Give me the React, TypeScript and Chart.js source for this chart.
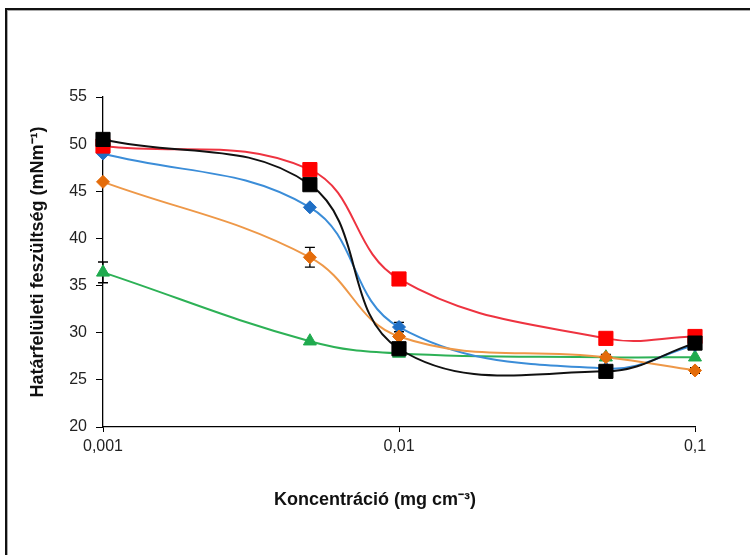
import React, { useEffect, useRef } from "react";
import { Chart, registerables } from "chart.js";

Chart.register(...registerables);

// Concentrations (mg cm⁻³) and labelled x ticks
const concentrations = [0.001, 0.005, 0.01, 0.05, 0.1];
const xTickValues = [0.001, 0.01, 0.1];
const xTickLabels = ["0,001", "0,01", "0,1"];

// Interfacial tension (mN m⁻¹) per series
const seriesBlack = [50.5, 45.7, 28.3, 25.9, 28.9];
const seriesRed = [49.8, 47.3, 35.7, 29.4, 29.6];
const seriesOrange = [46.0, 38.0, 29.6, 27.4, 26.0];
const seriesBlue = [49.0, 43.3, 30.6, 26.2, 28.7];
const seriesGreen = [36.4, 29.1, 27.8, 27.4, 27.4];

// Standard deviations (0 = no bar)
const errBlack = [0, 0, 0, 0, 0];
const errRed = [0, 0, 0, 0, 0];
const errOrange = [0, 1.05, 0, 0.3, 0.3];
const errBlue = [0, 0, 0.5, 0, 0];
const errGreen = [1.1, 0, 0, 0, 0];

const X_TITLE = "Koncentráció (mg cm⁻³)";
const Y_TITLE = "Határfelületi feszültség (mNm⁻¹)";

const FONT = "Arial, 'Liberation Sans', sans-serif";

const toPoints = (ys: number[]) => concentrations.map((x, i) => ({ x, y: ys[i] }));

const errorBarPlugin = {
  id: "errorBars",
  beforeDatasetsDraw(chart: any) {
    const { ctx, scales } = chart;
    const xs = scales.x;
    const ys = scales.y;
    ctx.save();
    ctx.strokeStyle = "#000";
    ctx.lineWidth = 1.3;
    chart.data.datasets.forEach((ds: any) => {
      const errs: number[] = ds.errors || [];
      ds.data.forEach((p: any, i: number) => {
        const e = errs[i];
        if (!e) return;
        const px = xs.getPixelForValue(p.x);
        const top = ys.getPixelForValue(p.y + e);
        const bot = ys.getPixelForValue(p.y - e);
        const cap = 5;
        ctx.beginPath();
        ctx.moveTo(px, top);
        ctx.lineTo(px, bot);
        ctx.moveTo(px - cap, top);
        ctx.lineTo(px + cap, top);
        ctx.moveTo(px - cap, bot);
        ctx.lineTo(px + cap, bot);
        ctx.stroke();
      });
    });
    ctx.restore();
  },
};

// x-axis caption, set slightly left of the plot centre
const xCaptionPlugin = {
  id: "xCaption",
  afterDraw(chart: any) {
    const { ctx, chartArea } = chart;
    const cx = (chartArea.left + chartArea.right) / 2 - 24;
    ctx.save();
    ctx.font = `bold 18px ${FONT}`;
    ctx.fillStyle = "#111";
    ctx.textAlign = "center";
    ctx.textBaseline = "middle";
    ctx.fillText(X_TITLE, cx, 500);
    ctx.restore();
  },
};

function makeSet(ys: number[], errs: number[], line: string, marker: string, style: string, radius: number) {
  return {
    data: toPoints(ys),
    errors: errs,
    borderColor: line,
    borderWidth: 2,
    backgroundColor: marker,
    pointBackgroundColor: marker,
    pointBorderColor: marker,
    pointBorderWidth: 1,
    pointStyle: style,
    pointRadius: radius,
    tension: 0.4,
    clip: false,
  };
}

export default function App() {
  const canvasRef = useRef<HTMLCanvasElement | null>(null);

  useEffect(() => {
    if (!canvasRef.current) return;
    const chart = new Chart(canvasRef.current, {
      type: "line",
      data: {
        datasets: [
          makeSet(seriesBlack, errBlack, "#111111", "#000000", "rect", 10),
          makeSet(seriesRed, errRed, "#EE3340", "#FF0000", "rect", 10),
          makeSet(seriesOrange, errOrange, "#EE9848", "#E46C0A", "rectRot", 6.5),
          makeSet(seriesBlue, errBlue, "#3B8DD8", "#1F6FC5", "rectRot", 6.5),
          makeSet(seriesGreen, errGreen, "#2DB156", "#1FAA4E", "triangle", 7.5),
        ] as any,
      },
      options: {
        animation: false,
        responsive: false,
        layout: { padding: { left: 0, right: 55, top: 97, bottom: 0 } },
        plugins: { legend: { display: false }, tooltip: { enabled: false } },
        scales: {
          x: {
            type: "logarithmic",
            min: 0.001,
            max: 0.1,
            afterBuildTicks: (scale: any) => {
              scale.ticks = xTickValues.map((v) => ({ value: v }));
            },
            afterFit: (scale: any) => {
              scale.height = 128;
            },
            ticks: {
              autoSkip: false,
              maxRotation: 0,
              padding: 5,
              color: "#222",
              font: { family: FONT, size: 16 },
              callback: (value: any) => {
                const idx = xTickValues.findIndex((v) => Math.abs(v - Number(value)) < 1e-9);
                return idx >= 0 ? xTickLabels[idx] : "";
              },
            },
            grid: { display: true, drawOnChartArea: false, drawTicks: true, tickLength: 5, color: "#000" },
            border: { display: true, color: "#000", width: 1.3 },
          },
          y: {
            min: 20,
            max: 55,
            afterFit: (scale: any) => {
              scale.width = 103;
            },
            ticks: {
              stepSize: 5,
              padding: 9,
              color: "#222",
              font: { family: FONT, size: 16 },
            },
            grid: { display: true, drawOnChartArea: false, drawTicks: true, tickLength: 7, color: "#000" },
            border: { display: true, color: "#000", width: 1.3 },
            title: {
              display: true,
              text: Y_TITLE,
              color: "#111",
              font: { family: FONT, size: 18, weight: "bold" },
              padding: { top: 27, bottom: 0 },
            },
          },
        },
      },
      plugins: [errorBarPlugin, xCaptionPlugin],
    });
    return () => chart.destroy();
  }, []);

  return (
    <div
      style={{
        position: "fixed",
        left: 0,
        top: 0,
        width: 750,
        height: 555,
        overflow: "hidden",
        background: "#fff",
      }}
    >
      <div
        style={{
          position: "absolute",
          left: 5,
          top: 8,
          width: 780,
          height: 580,
          borderLeft: "2px solid #111",
          borderTop: "2px solid #111",
          boxShadow: "inset 1px 1px 0 #aaa",
        }}
      />
      <canvas
        ref={canvasRef}
        width={750}
        height={555}
        style={{ position: "absolute", left: 0, top: 0, width: 750, height: 555 }}
      />
    </div>
  );
}
